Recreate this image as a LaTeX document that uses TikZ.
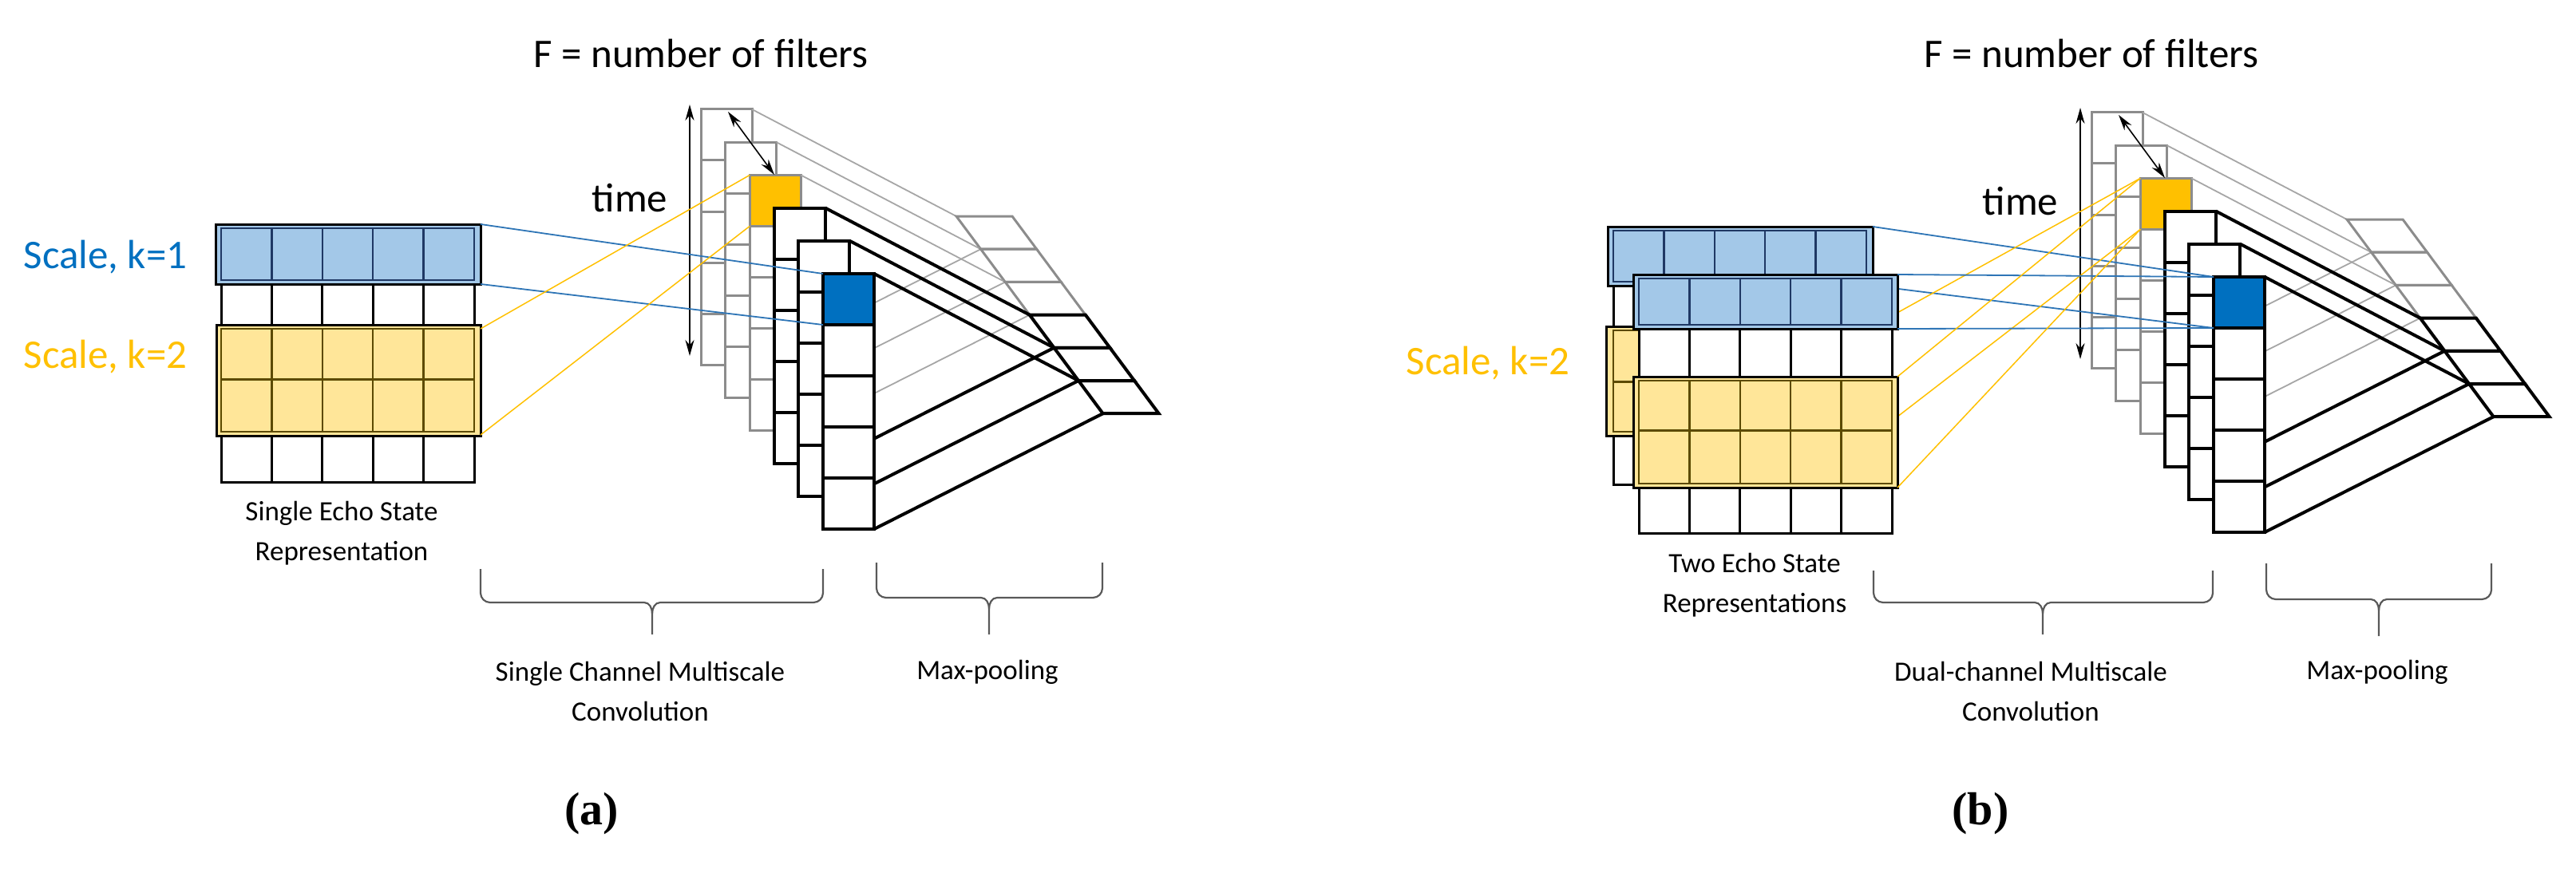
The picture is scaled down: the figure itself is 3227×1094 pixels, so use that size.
\documentclass[tikz,border=0pt]{standalone}
\usepackage{fontspec}
\setmainfont{Carlito}
\newfontfamily\capfont{Liberation Serif}
\usetikzlibrary{arrows.meta}
\definecolor{sblue}{HTML}{0070C0}
\definecolor{syell}{HTML}{FFC000}
\definecolor{lblue}{HTML}{A3C8E8}
\definecolor{lyell}{HTML}{FFE699}
\definecolor{greyc}{HTML}{8C8C8C}
\definecolor{greyl}{HTML}{A6A6A6}
\definecolor{navy}{HTML}{1F3864}
\definecolor{brn}{HTML}{5C4A00}
\definecolor{lblu}{HTML}{2E75B6}
\definecolor{brace}{HTML}{595959}
\tikzset{
  x=1pt,y=-1pt,
  gcol/.style={draw=greyc,line width=3pt,fill=white},
  bcol/.style={draw=black,line width=4pt,fill=white},
  glink/.style={draw=greyl,line width=1.8pt},
  blink/.style={draw=black,line width=4pt},
  cell/.style={draw=black,line width=3pt,fill=white},
  bconn/.style={draw=lblu,line width=1.8pt},
  yconn/.style={draw=syell,line width=1.5pt},
  darr/.style={line width=1.6pt,{Stealth[length=20pt,width=11pt]}-{Stealth[length=20pt,width=11pt]}},
  lab/.style={font=\fontsize{35}{50}\selectfont,align=center},
  big/.style={font=\fontsize{51}{60}\selectfont},
  subcap/.style={font=\capfont\bfseries\fontsize{58}{60}\selectfont},
  br/.style={draw=brace,line width=2.2pt},
}
% conv stack + pooling, shifted by (#1,#2), prefix #3
\newcommand\convstack[3]{%
  \foreach \i in {1,...,6}{%
    \pgfmathsetmacro\cx{878+30.6*(\i-1)+#1}%
    \pgfmathsetmacro\cy{137+41.2*(\i-1)+#2}%
    \pgfmathsetmacro\px{1198+30.6*(\i-1)+#1}%
    \pgfmathsetmacro\py{271+41.2*(\i-1)+#2}%
    \pgfmathsetmacro\qx{1198+30.6*\i+#1}%
    \pgfmathsetmacro\qy{271+41.2*\i+#2}%
    \ifnum\i<4 \def\cs{gcol}\def\ls{glink}\else\def\cs{bcol}\def\ls{blink}\fi
    \coordinate (#3c\i) at (\cx,\cy);
    \coordinate (#3p\i) at (\px,\py);
    \coordinate (#3q\i) at (\qx,\qy);
    \path[\cs,fill=white,draw=none] (\cx,\cy) rectangle ++(64,320);
    \ifnum\i=3 \fill[syell] (\cx,\cy) rectangle ++(64,64);\fi
    \ifnum\i=6 \fill[sblue] (\cx,\cy) rectangle ++(64,64);\fi
    \draw[\cs,fill=none] (\cx,\cy) rectangle ++(64,320)
      (\cx,\cy+64) -- ++(64,0) (\cx,\cy+128) -- ++(64,0)
      (\cx,\cy+192) -- ++(64,0) (\cx,\cy+256) -- ++(64,0);
    \draw[\ls] ([xshift=64pt]#3c\i) -- (#3p\i);
    \draw[\ls] ([xshift=64pt,yshift=-320pt]#3c\i) -- (#3q\i);
    \draw[\cs,fill=none,line join=miter] (#3p\i) -- ++(70,0) -- ([xshift=70pt]#3q\i) -- (#3q\i) -- cycle;
  }%
  \draw[darr] (864+#1,131+#2) -- (864+#1,446+#2);
  \draw[darr] (912+#1,140+#2) -- (970+#1,219+#2);
  \node[big] (#3time) at (789+#1,248+#2) {time};
  \node[big] (#3F) at (878+#1,67) {F = number of filters};
}
% grid of 5x5 at (#1,#2)
\newcommand\esgrid[2]{%
  \foreach \r in {0,...,4}{\foreach \c in {0,...,4}{%
    \path[cell] (#1+63.4*\c,#2+64.4*\r) rectangle ++(63.4,64.4);}}%
}
% overlay box: x0,y0,x1,y1, fill, line, rows(1 or 2), grid x0, grid inner y0
\newcommand\ovl[9]{%
  \fill[#5] (#1,#2) rectangle (#3,#4);
  \foreach \c in {1,...,4}{\draw[#6,line width=2.5pt] (#8+63.4*\c,#2+4) -- (#8+63.4*\c,#4-4);}
  \ifnum#7=2 \draw[#6,line width=2.5pt] (#8,#9+64.4) -- (#8+317,#9+64.4);\fi
  \draw[#6,line width=2.5pt] (#8,#2+5) rectangle (#8+317,#4-5);
  \draw[black,line width=3pt] (#1,#2) rectangle (#3,#4);
}
\newcommand\brc[6]{% x1 x2 top mid tip xc
  \draw[br] (#1,#3) -- (#1,#4-12) to[out=-90,in=180] (#1+12,#4) -- (#6-10,#4)
    to[out=0,in=90] (#6,#4+14) -- (#6,#5);
  \draw[br] (#2,#3) -- (#2,#4-12) to[out=-90,in=0] (#2-12,#4) -- (#6+10,#4)
    to[out=180,in=90] (#6,#4+14);
}
\begin{document}
\begin{tikzpicture}
\useasboundingbox (0,0) rectangle (3227,1094);
% ---------- (a) ----------
\convstack{0}{0}{a}
\esgrid{277}{282}
\ovl{270}{281}{602}{356}{lblue}{navy}{1}{277}{282}
\ovl{271}{407}{602}{546}{lyell}{brn}{2}{277}{411}
\coordinate (abt) at (602,281); \coordinate (abb) at (602,356);
\coordinate (ayt) at (602,412); \coordinate (ayb) at (602,545);
\draw[bconn] (abt) -- (ac6);
\draw[bconn] (abb) -- ([yshift=-64pt]ac6);
\draw[yconn] (ayt) -- (ac3);
\draw[yconn] (ayb) -- ([yshift=-64pt]ac3);
\node[big,text=sblue] (ak1) at (132,322) {Scale, k=1};
\node[big,text=syell] (ak2) at (132,447) {Scale, k=2};
\node[lab] (aesr) at (428,668) {Single Echo State\\Representation};
\brc{602}{1031}{713}{755}{795}{817}
\brc{1098}{1381}{705}{749}{795}{1239}
\node[lab] (aconv) at (802,866) {Single Channel Multiscale\\Convolution};
\node[lab] (apool) at (1237,842) {Max-pooling};
\node[subcap] (acap) at (741,1020) {(a)};
% ---------- (b) ----------
\convstack{1742}{4}{b}
\esgrid{2021}{285}
\ovl{2014}{284}{2346}{358}{lblue}{navy}{1}{2021}{285}
\ovl{2012}{409}{2346}{546}{lyell}{brn}{2}{2021}{414}
\coordinate (bbt) at (2346,284); \coordinate (bbb) at (2346,358);
\coordinate (byt) at (2346,409); \coordinate (byb) at (2346,546);
\draw[bconn] (bbt) -- (bc6);
\draw[bconn] (bbb) -- ([yshift=-64pt]bc6);
\draw[yconn] (byt) -- (bc3);
\draw[yconn] (byb) -- ([yshift=-64pt]bc3);
\esgrid{2053}{346}
\ovl{2046}{344}{2377}{412}{lblue}{navy}{1}{2053}{346}
\ovl{2046}{472}{2377}{611}{lyell}{brn}{2}{2053}{475}
\coordinate (fbt) at (2377,344); \coordinate (fbb) at (2377,412);
\coordinate (fyt) at (2377,472); \coordinate (fyb) at (2377,611);
\draw[bconn] (fbt) -- (bc6);
\draw[bconn] (fbb) -- ([yshift=-64pt]bc6);
\draw[yconn] (fyt) -- (bc3);
\draw[yconn] (fyb) -- ([yshift=-64pt]bc3);
\node[big,text=syell] (bk2) at (1864,455) {Scale, k=2};
\node[lab] (besr) at (2198,733) {Two Echo State\\Representations};
\brc{2347}{2772}{715}{755}{795}{2559}
\brc{2839}{3121}{706}{751}{797}{2980}
\node[lab] (bconv) at (2544,866) {Dual-channel Multiscale\\Convolution};
\node[lab] (bpool) at (2978,842) {Max-pooling};
\node[subcap] (bcap) at (2481,1020) {(b)};
\end{tikzpicture}
\end{document}
